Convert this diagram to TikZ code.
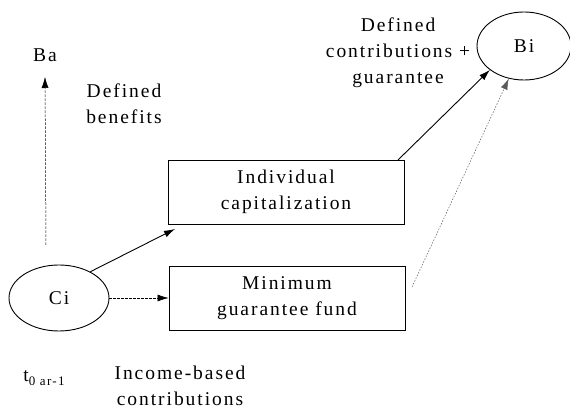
\documentclass[tikz,border=0pt]{standalone}
\usepackage{fontspec}
\setmainfont{Liberation Serif}[LetterSpace=10]
\usetikzlibrary{arrows.meta,shapes.geometric}
\begin{document}
\begin{tikzpicture}[x=1pt,y=-1pt,
  every node/.style={font=\fontsize{19.5}{26}\selectfont, inner sep=0pt},
  lbl/.style={align=center},
  box/.style={draw, line width=0.9pt, minimum width=236pt, minimum height=64pt, align=center},
  ell/.style={draw, ellipse, line width=0.9pt},
  tip/.style={-{Latex[length=11pt,width=7pt]}},
  solidarr/.style={tip, line width=0.9pt},
  dasharr/.style={tip, line width=0.5pt, dash pattern=on 2.5pt off 1.5pt},
  dotarr/.style={tip, line width=0.5pt, gray!70!black, dash pattern=on 1.5pt off 1.5pt}]
\useasboundingbox (0,0) rectangle (570,411);
\node[ell, minimum width=100pt, minimum height=66pt] (ci) at (59,298) {Ci};
\node[ell, minimum width=94pt, minimum height=68pt] (bi) at (524,46) {Bi};
\node[box] (ic) at (286,192) {Individual\\capitalization};
\node[box] (mg) at (287,298) {Minimum\\guarantee fund};
\node (ba) at (45,55) {Ba};
\coordinate (bastart) at (46,245);
\node[lbl] (db) at (124,104) {Defined\\benefits};
\node[lbl] (dc) at (398,53) {Defined\\contributions +\\guarantee};
\node (t) at (44,378) {t\raisebox{-4pt}{\fontsize{13}{13}\selectfont 0 ar-1}};
\node[lbl] (inc) at (180,386) {Income-based\\contributions};
\coordinate (icin) at (175,229);
\coordinate (icout) at (398,160);
\coordinate (mgout) at (412,287);
\draw[dasharr] (bastart) -- (ba.south |- 0,77);
\draw[solidarr] (ci.40) -- (icin);
\draw[dasharr] (ci.east) -- (mg.west);
\draw[solidarr] (icout) -- (bi.215);
\draw[dotarr] (mgout) -- (bi.245);
\end{tikzpicture}
\end{document}
